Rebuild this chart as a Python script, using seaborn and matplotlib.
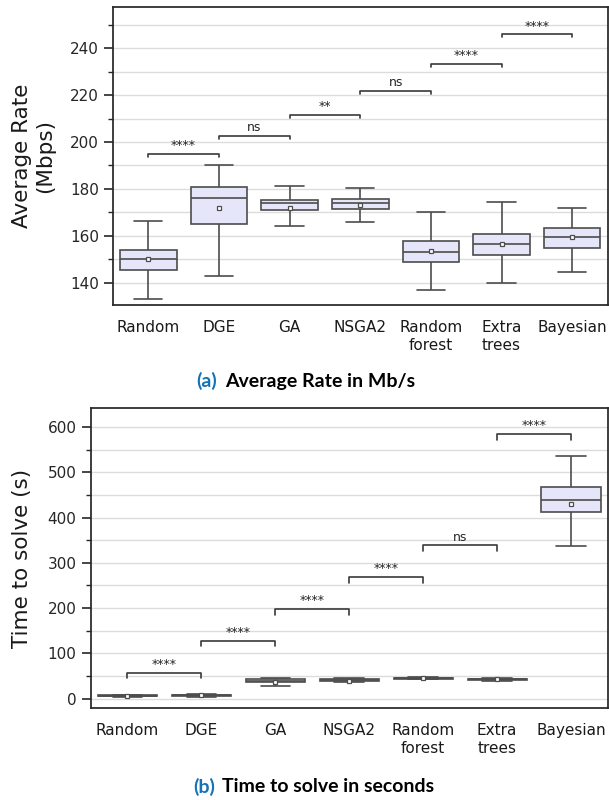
"""Box plots of average rate and time to solve per optimisation method."""

import matplotlib

matplotlib.use("Agg")
import matplotlib.pyplot as plt
import matplotlib.ticker as mticker
import pandas as pd
import seaborn as sns

# Methods (tick labels)
methods = ["Random", "DGE", "GA", "NSGA2", "Random\nforest", "Extra\ntrees", "Bayesian"]

# (a) Average rate (Mbps): whisker low, Q1, median, Q3, whisker high, mean
rate_lo = [133.1, 142.7, 164.3, 165.9, 136.6, 140.0, 144.7]
rate_q1 = [145.4, 165.0, 170.9, 171.4, 148.8, 151.8, 154.9]
rate_med = [149.9, 176.0, 173.8, 174.0, 152.9, 156.5, 159.5]
rate_q3 = [153.9, 180.7, 175.4, 175.6, 157.6, 160.9, 163.4]
rate_hi = [166.4, 190.2, 181.2, 180.2, 170.3, 174.4, 171.8]
rate_mean = [150.2, 172.0, 171.7, 173.0, 153.3, 156.6, 159.5]

# (b) Time to solve (s)
time_lo = [4.5, 4.0, 29.0, 36.0, 43.0, 38.5, 337.2]
time_q1 = [6.0, 6.5, 37.0, 39.0, 44.5, 41.5, 412.3]
time_med = [7.0, 7.5, 40.0, 41.0, 45.5, 42.5, 439.5]
time_q3 = [7.5, 8.5, 43.0, 43.0, 46.0, 44.0, 466.7]
time_hi = [9.0, 11.0, 45.0, 46.0, 47.0, 45.5, 536.7]
time_mean = [7.0, 7.5, 37.0, 40.0, 45.5, 43.0, 430.7]

# Significance brackets between neighbouring methods
sig_labels_rate = ["****", "ns", "**", "ns", "****", "****"]
sig_levels_rate = [195.0, 202.7, 211.5, 221.9, 233.3, 246.0]
sig_labels_time = ["****", "****", "****", "****", "ns", "****"]
sig_levels_time = [57.4, 128.0, 198.0, 268.7, 338.6, 584.6]

BOX_FILL = "#e6e6fa"
LINE = "#4d4d4d"

sns.set_theme(style="ticks")
plt.rcParams.update({
    "font.family": ["DejaVu Sans"],
    "axes.edgecolor": "#262626",
    "axes.linewidth": 1.25,
    "xtick.labelsize": 11,
    "ytick.labelsize": 11,
    "ytick.major.size": 6.5,
    "ytick.minor.size": 3.5,
    "ytick.major.width": 1.2,
    "ytick.minor.width": 1.0,
    "ytick.color": "#262626",
})


def summary_frame(lo, q1, med, q3, hi):
    rows = []
    for m, vals in zip(methods, zip(lo, q1, med, q3, hi)):
        for v in vals:
            rows.append({"method": m, "value": v})
    return pd.DataFrame(rows)


def draw_panel(ax, df, means, sig_labels, sig_levels, leg, ylabel, ylim, major, minor):
    ax.yaxis.grid(True, which="both", color="#dcdcdc", linewidth=1.0)
    ax.set_axisbelow(True)
    sns.boxplot(
        data=df, x="method", y="value", order=methods, color=BOX_FILL,
        saturation=1, linecolor=LINE, linewidth=1.2, whis=(0, 100),
        width=0.8, showfliers=False, ax=ax,
    )
    mean_df = pd.DataFrame({"method": methods, "mean": means})
    sns.pointplot(
        data=mean_df, x="method", y="mean", order=methods, linestyle="none",
        marker="s", color=LINE, markerfacecolor="white", markeredgecolor=LINE,
        markersize=3, markeredgewidth=0.9, errorbar=None, ax=ax, zorder=5,
    )
    for i, (lab, lvl) in enumerate(zip(sig_labels, sig_levels)):
        ax.plot([i, i, i + 1, i + 1], [lvl - leg, lvl, lvl, lvl - leg],
                color="#3a3a3a", linewidth=1.2, zorder=6)
        ax.annotate(lab, xy=(i + 0.5, lvl), xytext=(0, 1.2), textcoords="offset points",
                    ha="center", va="bottom", fontsize=9, color="#262626")
    ax.set_xlim(-0.5, len(methods) - 0.5)
    ax.set_ylim(*ylim)
    ax.yaxis.set_major_locator(mticker.MultipleLocator(major))
    ax.yaxis.set_minor_locator(mticker.MultipleLocator(minor))
    ax.tick_params(axis="x", length=0, pad=11, colors="#1a1a1a")
    ax.set_xlabel("")
    ax.set_ylabel(ylabel, fontsize=15.5, color="#1a1a1a", labelpad=11)
    for s in ax.spines.values():
        s.set_visible(True)


fig = plt.figure(figsize=(6.09, 8), dpi=100)
W, H = 609, 800
ax1 = fig.add_axes([113 / W, (H - 305) / H, (607.5 - 113) / W, (305 - 7.5) / H])
ax2 = fig.add_axes([90.5 / W, (H - 708) / H, (608 - 90.5) / W, (708 - 408) / H])

draw_panel(ax1, summary_frame(rate_lo, rate_q1, rate_med, rate_q3, rate_hi), rate_mean,
           sig_labels_rate, sig_levels_rate, 1.3, "Average Rate\n(Mbps)",
           (130.4, 257.4), 20, 10)
draw_panel(ax2, summary_frame(time_lo, time_q1, time_med, time_q3, time_hi), time_mean,
           sig_labels_time, sig_levels_time, 12.5, "Time to solve (s)",
           (-20.6, 642), 100, 50)

# Sub-captions
cap_kw = dict(fontsize=14, fontweight="bold", family=["Lato", "DejaVu Sans"], va="center")
fig.text(196 / W, 1 - 381 / H, "(a)", color="#1472b6", ha="left", **cap_kw)
fig.text(225 / W, 1 - 381 / H, "Average Rate in Mb/s", color="black", ha="left", **cap_kw)
fig.text(193 / W, 1 - 787 / H, "(b)", color="#1472b6", ha="left", **cap_kw)
fig.text(222 / W, 1 - 787 / H, "Time to solve in seconds", color="black", ha="left", **cap_kw)

fig.savefig("out.png", dpi=100)
